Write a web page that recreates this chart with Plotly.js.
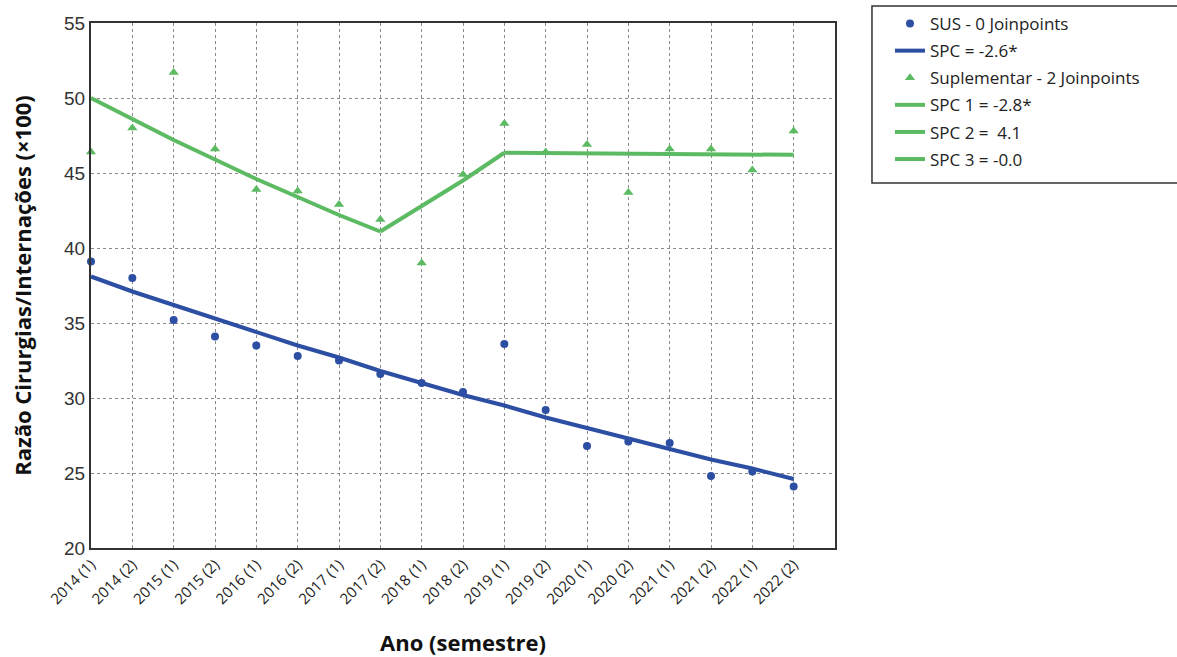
<!DOCTYPE html>
<html>
<head>
<meta charset="utf-8">
<script src="https://cdn.plot.ly/plotly-3.0.1.min.js"></script>
<style>html,body{margin:0;padding:0;background:#fff;}#chart{width:1177px;height:657px;}</style>
</head>
<body>
<div id="chart"></div>
<script>
const semesters = ["2014 (1)","2014 (2)","2015 (1)","2015 (2)","2016 (1)","2016 (2)","2017 (1)","2017 (2)","2018 (1)","2018 (2)","2019 (1)","2019 (2)","2020 (1)","2020 (2)","2021 (1)","2021 (2)","2022 (1)","2022 (2)"];
const susObserved = [39.1,38.0,35.2,34.1,33.5,32.8,32.5,31.6,31.0,30.4,33.6,29.2,26.8,27.1,27.0,24.8,25.1,24.1];
const susFitted = [38.1,37.1,36.2,35.3,34.4,33.5,32.7,31.8,31.0,30.2,29.5,28.7,28.0,27.3,26.6,25.9,25.3,24.6];
const supObserved = [46.4,48.0,51.7,46.6,43.9,43.8,42.9,41.9,39.0,44.9,48.3,46.4,46.9,43.7,46.6,46.6,45.2,47.8];
const supSeg1Cats = semesters.slice(0,8);
const supSeg1 = [50.0,48.6,47.2,45.9,44.6,43.4,42.2,41.1];
const supSeg2Cats = semesters.slice(7,11);
const supSeg2 = [41.1,42.8,44.5,46.35];
const supSeg3Cats = semesters.slice(10,18);
const supSeg3 = [46.35,46.33,46.31,46.29,46.27,46.25,46.23,46.21];

const blue = '#2D4FA3';
const green = '#5CBA62';

const traces = [
  {x: semesters, y: susObserved, type:'scatter', mode:'markers', name:'SUS - 0 Joinpoints', legendgroup:'a',
   marker:{color:blue, size:8, symbol:'circle'}, cliponaxis:false},
  {x: semesters, y: susFitted, type:'scatter', mode:'lines', name:'SPC = -2.6*', legendgroup:'b',
   line:{color:blue, width:4}, cliponaxis:false},
  {x: semesters, y: supObserved, type:'scatter', mode:'markers', name:'Suplementar - 2 Joinpoints', legendgroup:'c',
   marker:{color:green, size:9, symbol:'triangle-up'}, cliponaxis:false},
  {x: supSeg1Cats, y: supSeg1, type:'scatter', mode:'lines', name:'SPC 1 = -2.8*', legendgroup:'d',
   line:{color:green, width:4}, cliponaxis:false},
  {x: supSeg2Cats, y: supSeg2, type:'scatter', mode:'lines', name:'SPC 2 =  4.1', legendgroup:'e',
   line:{color:green, width:4}, cliponaxis:false},
  {x: supSeg3Cats, y: supSeg3, type:'scatter', mode:'lines', name:'SPC 3 = -0.0', legendgroup:'f',
   line:{color:green, width:4}, cliponaxis:false}
];

const layout = {
  width:1177, height:657,
  margin:{l:91, r:342, t:23, b:109, autoexpand:false},
  paper_bgcolor:'#fff', plot_bgcolor:'#fff',
  showlegend:true,
  legend:{x:1.0739, y:1.0324, xanchor:'left', yanchor:'top', borderwidth:0,
    bgcolor:'rgba(0,0,0,0)', tracegroupgap:2,
    font:{family:'"Open Sans", sans-serif', size:17, color:'#222'}},
  xaxis:{type:'category', categoryorder:'array', categoryarray:semesters, range:[0,18],
    tickangle:-45, tickfont:{family:'"Open Sans", sans-serif', size:15, color:'#222'},
    showgrid:true, gridcolor:'#8a8a8a', griddash:'dot', gridwidth:1,
    showline:true, linecolor:'#333', linewidth:2, mirror:true, ticks:'', zeroline:false,
    title:{text:'Ano (semestre)', standoff:30, font:{family:'"Open Sans", sans-serif', size:22, color:'#111', weight:700}}},
  yaxis:{range:[20,55], dtick:5, tick0:20,
    tickfont:{family:'"Liberation Sans", Arial, sans-serif', size:19, color:'#333'},
    showgrid:true, gridcolor:'#8a8a8a', griddash:'dot', gridwidth:1,
    showline:true, linecolor:'#333', linewidth:2, mirror:true, ticks:'', zeroline:false,
    title:{text:'Razão Cirurgias/Internações (×100)', standoff:26, font:{family:'"Open Sans", sans-serif', size:22, color:'#111', weight:700}}},
  shapes:[{type:'rect', xref:'paper', yref:'paper', x0:1.0497, x1:1.462, y0:0.6952, y1:1.0324,
    line:{color:'#333', width:1.5}, fillcolor:'rgba(0,0,0,0)'}]
};

Plotly.newPlot('chart', traces, layout, {displayModeBar:false, staticPlot:true});
</script>
</body>
</html>
